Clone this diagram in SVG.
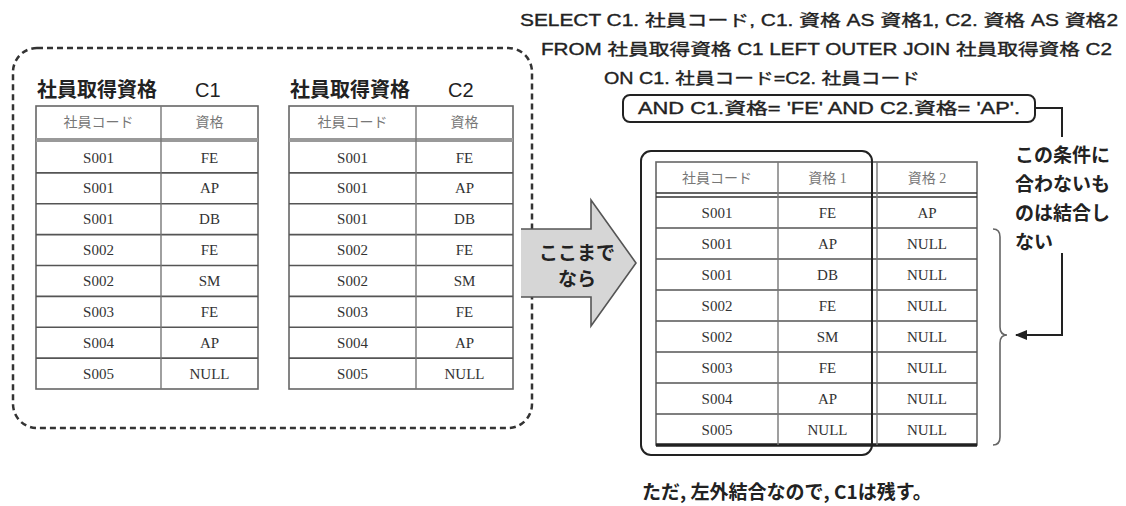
<svg xmlns="http://www.w3.org/2000/svg" width="1126" height="506" viewBox="0 0 1126 506">
<style>
.sql{font-family:"Liberation Sans","Noto Sans CJK JP",sans-serif;font-size:16px;font-weight:400;fill:#222;stroke:#222;stroke-width:0.35}
.ttl{font-family:"Noto Sans CJK JP","Liberation Sans",sans-serif;font-size:20px;font-weight:700;fill:#222}
.lbl{font-family:"Noto Sans CJK JP",sans-serif;font-size:19px;font-weight:700;fill:#222}
.hd{font-family:"Liberation Serif","Noto Sans CJK JP",serif;font-size:14px;fill:#777;text-anchor:middle}
.cell{font-family:"Liberation Serif","Noto Sans CJK JP",serif;font-size:15px;fill:#333;text-anchor:middle}
.tb{fill:#fff;stroke:#666;stroke-width:1.6}
.rl{stroke:#555;stroke-width:1.6;fill:none}
.cl{stroke:#777;stroke-width:1.4;fill:none}
.conn{stroke:#222;stroke-width:2;fill:none}
</style>
<defs>
<marker id="ah" viewBox="0 0 12 10" refX="11" refY="5" markerWidth="12" markerHeight="10" markerUnits="userSpaceOnUse" orient="auto">
<path d="M0,0 L12,5 L0,10 Z" fill="#222"/>
</marker>
</defs>
<rect width="1126" height="506" fill="#fff"/>

<g id="sql">
<text class="sql" x="520" y="26" textLength="598" lengthAdjust="spacingAndGlyphs">SELECT  C1. 社員コード, C1. 資格  AS  資格1, C2. 資格  AS  資格2</text>
<text class="sql" x="541" y="55" textLength="571" lengthAdjust="spacingAndGlyphs">FROM  社員取得資格  C1  LEFT  OUTER  JOIN  社員取得資格  C2</text>
<text class="sql" x="604" y="84" textLength="316" lengthAdjust="spacingAndGlyphs">ON  C1. 社員コード=C2. 社員コード</text>
</g>

<g id="cond-box">
<rect x="623" y="95" width="412" height="27" rx="7" fill="#fff" stroke="#222" stroke-width="2"/>
<text class="sql" x="638" y="114" textLength="382" lengthAdjust="spacingAndGlyphs">AND  C1.資格= 'FE'   AND  C2.資格= 'AP'.</text>
</g>

<g id="source-box">
<rect x="13" y="48" width="519" height="380" rx="24" fill="none" stroke="#333" stroke-width="2.5" stroke-dasharray="6 4"/>
</g>

<g id="table-c1">
<text class="ttl" x="37" y="97">社員取得資格<tspan x="195" font-weight="500" font-family="Liberation Sans, sans-serif">C1</tspan></text>
<rect class="tb" x="36" y="106" width="222" height="283"/>
<rect x="36" y="138" width="222" height="4" fill="#999"/>
<path class="rl" d="M36,172.9H258M36,203.75H258M36,234.6H258M36,265.5H258M36,296.4H258M36,327.25H258M36,358.1H258"/>
<path class="cl" d="M161,106V389"/>
<text class="hd" x="98.5" y="127">社員コード</text><text class="hd" x="209.5" y="127">資格</text>
<text class="cell" x="98.5" y="162.5">S001</text><text class="cell" x="209.5" y="162.5">FE</text>
<text class="cell" x="98.5" y="193.4">S001</text><text class="cell" x="209.5" y="193.4">AP</text>
<text class="cell" x="98.5" y="224.3">S001</text><text class="cell" x="209.5" y="224.3">DB</text>
<text class="cell" x="98.5" y="255.2">S002</text><text class="cell" x="209.5" y="255.2">FE</text>
<text class="cell" x="98.5" y="286">S002</text><text class="cell" x="209.5" y="286">SM</text>
<text class="cell" x="98.5" y="316.9">S003</text><text class="cell" x="209.5" y="316.9">FE</text>
<text class="cell" x="98.5" y="347.8">S004</text><text class="cell" x="209.5" y="347.8">AP</text>
<text class="cell" x="98.5" y="378.6">S005</text><text class="cell" x="209.5" y="378.6">NULL</text>
</g>

<g id="table-c2">
<text class="ttl" x="290" y="97">社員取得資格<tspan x="448" font-weight="500" font-family="Liberation Sans, sans-serif">C2</tspan></text>
<rect class="tb" x="289" y="106" width="224" height="283"/>
<rect x="289" y="138" width="224" height="4" fill="#999"/>
<path class="rl" d="M289,172.9H513M289,203.75H513M289,234.6H513M289,265.5H513M289,296.4H513M289,327.25H513M289,358.1H513"/>
<path class="cl" d="M416,106V389"/>
<text class="hd" x="352.5" y="127">社員コード</text><text class="hd" x="464.5" y="127">資格</text>
<text class="cell" x="352.5" y="162.5">S001</text><text class="cell" x="464.5" y="162.5">FE</text>
<text class="cell" x="352.5" y="193.4">S001</text><text class="cell" x="464.5" y="193.4">AP</text>
<text class="cell" x="352.5" y="224.3">S001</text><text class="cell" x="464.5" y="224.3">DB</text>
<text class="cell" x="352.5" y="255.2">S002</text><text class="cell" x="464.5" y="255.2">FE</text>
<text class="cell" x="352.5" y="286">S002</text><text class="cell" x="464.5" y="286">SM</text>
<text class="cell" x="352.5" y="316.9">S003</text><text class="cell" x="464.5" y="316.9">FE</text>
<text class="cell" x="352.5" y="347.8">S004</text><text class="cell" x="464.5" y="347.8">AP</text>
<text class="cell" x="352.5" y="378.6">S005</text><text class="cell" x="464.5" y="378.6">NULL</text>
</g>

<g id="arrow-step">
<path d="M521,229 L591,229 L591,200 L636,263 L591,326 L591,297 L521,297" fill="#d6d6d6" stroke="#555" stroke-width="1.6" stroke-linejoin="miter"/>
<text class="lbl" x="577" y="260" text-anchor="middle" font-weight="500" font-size="18">ここまで</text>
<text class="lbl" x="577" y="286" text-anchor="middle" font-weight="500" font-size="18">なら</text>
</g>

<g id="result-table">
<rect class="tb" x="656" y="162" width="321" height="283"/>
<path d="M656,193H977M656,197H977" stroke="#333" stroke-width="1.6" fill="none"/>
<path class="rl" d="M656,228H977M656,259H977M656,290H977M656,321H977M656,352H977M656,383H977M656,414H977"/>
<path d="M656,445H977" stroke="#222" stroke-width="3.5"/>
<path class="cl" d="M778,162V445M877,162V445"/>
<text class="hd" x="717" y="183">社員コード</text><text class="hd" x="827.5" y="183">資格 1</text><text class="hd" x="927" y="183">資格 2</text>
<text class="cell" x="717" y="217.5">S001</text><text class="cell" x="827.5" y="217.5">FE</text><text class="cell" x="927" y="217.5">AP</text>
<text class="cell" x="717" y="248.5">S001</text><text class="cell" x="827.5" y="248.5">AP</text><text class="cell" x="927" y="248.5">NULL</text>
<text class="cell" x="717" y="279.5">S001</text><text class="cell" x="827.5" y="279.5">DB</text><text class="cell" x="927" y="279.5">NULL</text>
<text class="cell" x="717" y="310.5">S002</text><text class="cell" x="827.5" y="310.5">FE</text><text class="cell" x="927" y="310.5">NULL</text>
<text class="cell" x="717" y="341.5">S002</text><text class="cell" x="827.5" y="341.5">SM</text><text class="cell" x="927" y="341.5">NULL</text>
<text class="cell" x="717" y="372.5">S003</text><text class="cell" x="827.5" y="372.5">FE</text><text class="cell" x="927" y="372.5">NULL</text>
<text class="cell" x="717" y="403.5">S004</text><text class="cell" x="827.5" y="403.5">AP</text><text class="cell" x="927" y="403.5">NULL</text>
<text class="cell" x="717" y="434.5">S005</text><text class="cell" x="827.5" y="434.5">NULL</text><text class="cell" x="927" y="434.5">NULL</text>
</g>

<g id="result-box">
<rect x="641" y="151" width="231" height="304" rx="10" fill="none" stroke="#222" stroke-width="2"/>
</g>

<g id="brace">
<path d="M993,229 Q1000,229 1000,237 L1000,327 Q1000,335 1007,335 Q1000,335 1000,343 L1000,437 Q1000,445 993,445" fill="none" stroke="#666" stroke-width="1.6"/>
</g>

<g id="note">
<text class="lbl" x="1015" y="162">この条件に</text>
<text class="lbl" x="1015" y="191">合わないも</text>
<text class="lbl" x="1015" y="220">のは結合し</text>
<text class="lbl" x="1015" y="249">ない</text>
</g>

<g id="connectors">
<path class="conn" d="M1035,108 H1062 V137"/>
<path class="conn" d="M1062,253 V335 H1016" marker-end="url(#ah)"/>
</g>

<g id="footer">
<text class="lbl" x="642" y="499" font-size="16" font-weight="500">ただ, 左外結合なので, C1は残す。</text>
</g>
</svg>
